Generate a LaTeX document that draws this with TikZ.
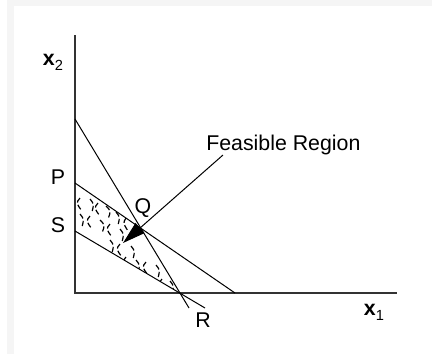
\documentclass[tikz,border=0pt]{standalone}
\usepackage{fontspec}
\setmainfont{Liberation Sans}
\usetikzlibrary{arrows.meta}
\begin{document}
\begin{tikzpicture}[x=0.75pt,y=-0.75pt,
  lbl/.style={inner sep=0pt,font=\fontsize{16}{18}\selectfont},
  axisline/.style={line width=1.1pt,black!80},
  cline/.style={line width=0.75pt},
  hatch/.style={line width=0.9pt,dash pattern=on 4pt off 1.8pt}]
\useasboundingbox (0,0) rectangle (432,354);
\fill[white] (0,0) rectangle (432,354);
\fill[black!4] (7,0) rectangle (432,354);
\fill[white] (14,6) rectangle (432,354);
% axes
\coordinate (O) at (75,293);
\coordinate (Ytop) at (75,35);
\coordinate (Xend) at (397,293);
\draw[axisline] (Ytop) -- (O) -- (Xend);
% constraint lines
\coordinate (A) at (75,119);
\coordinate (Rend) at (189,308);
\coordinate (P) at (75,183);
\coordinate (B) at (235,293);
\coordinate (S) at (75,231);
\coordinate (Send) at (205,308);
\draw[cline] (A) -- (Rend);
\draw[cline] (P) -- (B);
\draw[cline] (S) -- (Send);
% hatching
\begin{scope}
\clip (75,183) -- (139,227) -- (180,293) -- (75,231) -- cycle;
\foreach \x/\y/\b in {80/198/-4,90/199/4,98/203/-4,106/206/5,116/212/4,126/218/-3,
                   80/214/4,90/216/-4,100/220/5,110/224/-4,120/229/4,
                   110/240/4,120/244/-4,131/246/4,
                   126/257/-4,136/260/4,146/262/-4,156/265/4,
                   152/277/4,162/279/-4,170/281/4}
  \draw[hatch] (\x,\y) .. controls (\x+\b,\y+5) .. (\x+2,\y+13);
\end{scope}
% leader with arrow
\coordinate (L) at (223,155);
\coordinate (T) at (123,243);
\draw[cline,-{Triangle[length=17pt,width=10pt]}] (L) -- (T);
% labels
\node[lbl,anchor=west] (fr) at (206,145) {Feasible Region};
\node[lbl] (x2) at (53,62) {\textbf{x}\raisebox{-0.45ex}{\fontsize{11}{12}\selectfont 2}};
\node[lbl] (x1) at (374,312) {\textbf{x}\raisebox{-0.45ex}{\fontsize{11}{12}\selectfont 1}};
\node[lbl] (pl) at (58,177) {P};
\node[lbl] (sl) at (58,225) {S};
\node[lbl] (ql) at (143,208) {Q};
\node[lbl] (rl) at (203,320) {R};
\end{tikzpicture}
\end{document}
